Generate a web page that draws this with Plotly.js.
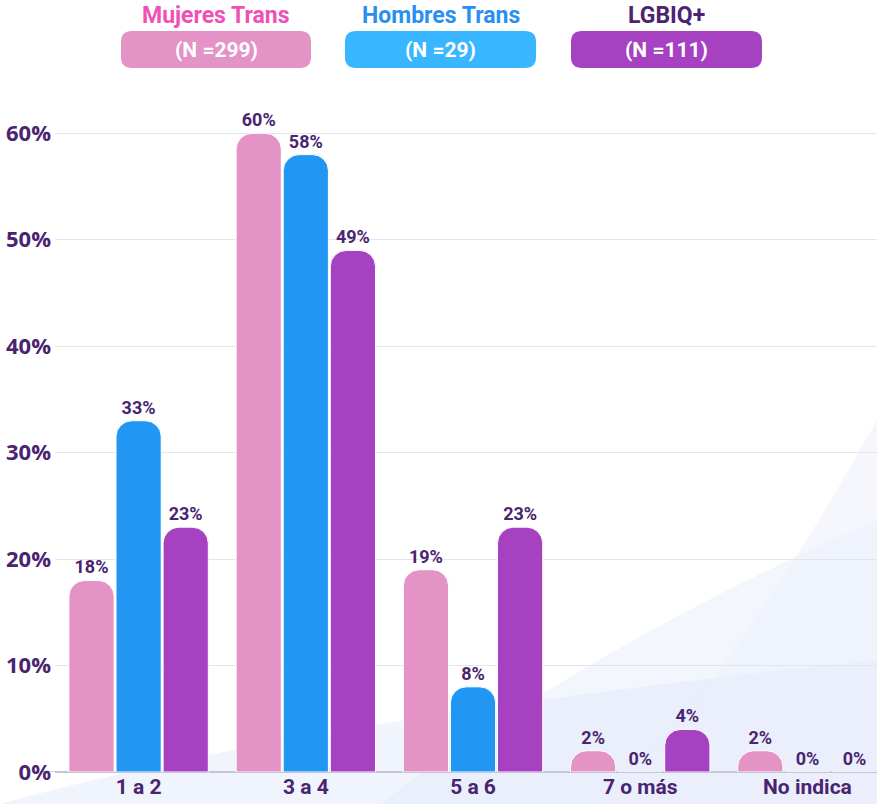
<!DOCTYPE html>
<html><head><meta charset="utf-8">
<script src="https://cdn.plot.ly/plotly-3.0.1.min.js"></script>
<style>html,body{margin:0;padding:0;background:#fff}#c{width:877px;height:804px}</style>
</head><body><div id="c"></div>
<script>
const categories = ["1 a 2", "3 a 4", "5 a 6", "7 o más", "No indica"];
const seriesNames = ["Mujeres Trans", "Hombres Trans", "LGBIQ+"];
const seriesN = ["(N =299)", "(N =29)", "(N =111)"];
const mujeresTrans = [18, 60, 19, 2, 2];
const hombresTrans = [33, 58, 8, 0, 0];
const lgbiq = [23, 49, 23, 4, 0];
const yTicks = [0, 10, 20, 30, 40, 50, 60];

const W = 877, H = 804, L = 55, R = 0, T = 95, B = 32;
const pw = W - L - R, ph = H - T - B;
const px = x => (x - L) / pw;
const py = y => (H - B - y) / ph;
function rrect(x0, y0, x1, y1, r) {
  const X = v => px(v).toFixed(5), Y = v => py(v).toFixed(5);
  return `M${X(x0 + r)},${Y(y0)} L${X(x1 - r)},${Y(y0)} Q${X(x1)},${Y(y0)} ${X(x1)},${Y(y0 + r)} ` +
    `L${X(x1)},${Y(y1 - r)} Q${X(x1)},${Y(y1)} ${X(x1 - r)},${Y(y1)} L${X(x0 + r)},${Y(y1)} ` +
    `Q${X(x0)},${Y(y1)} ${X(x0)},${Y(y1 - r)} L${X(x0)},${Y(y0 + r)} Q${X(x0)},${Y(y0)} ${X(x0 + r)},${Y(y0)} Z`;
}

const barColors = ["#e493c7", "#2196f2", "#a641c1"];
const boxColors = ["#e493c7", "#38b6ff", "#a641c1"];
const titleColors = ["#f050b5", "#2a8ff0", "#4a2470"];
const dark = "#4a2470";
const font = "Roboto, 'Open Sans', sans-serif";

const vals = [mujeresTrans, hombresTrans, lgbiq];
const traces = vals.map((v, i) => ({
  type: "bar", x: categories, y: v, name: seriesNames[i],
  marker: {color: barColors[i], line: {color: "#ffffff", width: 1}},
  text: v.map(d => d + "%"), textposition: "outside", cliponaxis: false,
  textfont: {family: font, size: 18, color: dark, weight: 700},
  hoverinfo: "skip"
}));

const shapes = [];
// soft background swooshes
shapes.push({type: "path", xref: "paper", yref: "paper", layer: "below", line: {width: 0},
  fillcolor: "rgba(228,234,250,0.45)",
  path: `M${px(380)},${py(804)} Q${px(600)},${py(640)} ${px(877)},${py(520)} L${px(877)},${py(804)} Z`});
shapes.push({type: "path", xref: "paper", yref: "paper", layer: "below", line: {width: 0},
  fillcolor: "rgba(222,230,248,0.45)",
  path: `M${px(0)},${py(804)} Q${px(300)},${py(720)} ${px(877)},${py(660)} L${px(877)},${py(804)} Z`});
shapes.push({type: "path", xref: "paper", yref: "paper", layer: "below", line: {width: 0},
  fillcolor: "rgba(235,240,252,0.5)",
  path: `M${px(600)},${py(804)} Q${px(720)},${py(700)} ${px(877)},${py(420)} L${px(877)},${py(804)} Z`});
// baseline extension to the left
shapes.push({type: "line", xref: "paper", yref: "y", x0: px(40), x1: 1, y0: 0, y1: 0,
  line: {color: "#c6c6d6", width: 1.5}, layer: "below"});

const boxX = [[121, 311], [345, 536], [571, 762]];
const annotations = [];
boxX.forEach((b, i) => {
  shapes.push({type: "path", xref: "paper", yref: "paper", line: {width: 0},
    fillcolor: boxColors[i], path: rrect(b[0], 31, b[1], 68, 11)});
  const cx = px((b[0] + b[1]) / 2);
  annotations.push({xref: "paper", yref: "paper", x: cx, y: py(49.5), yanchor: "middle", xanchor: "center",
    showarrow: false, text: "<b>" + seriesN[i] + "</b>", font: {family: font, size: 21, color: "#ffffff"}});
  annotations.push({xref: "paper", yref: "paper", x: cx, y: py(15.5), yanchor: "middle", xanchor: "center",
    showarrow: false, text: "<b>" + seriesNames[i] + "</b>", font: {family: font, size: 23, color: titleColors[i]}});
});

const layout = {
  width: W, height: H, margin: {l: L, r: R, t: T, b: B},
  paper_bgcolor: "rgba(0,0,0,0)", plot_bgcolor: "rgba(0,0,0,0)",
  showlegend: false, barmode: "group", bargap: 0.155, bargroupgap: 0.04,
  barcornerradius: 16,
  font: {family: font, color: dark},
  xaxis: {type: "category", range: [-0.5, 4.416], showgrid: false, zeroline: false,
    showline: false, ticks: "", tickfont: {family: font, size: 21, color: dark, weight: 700},
    fixedrange: true},
  yaxis: {range: [0, 63.6], tickvals: yTicks, ticktext: yTicks.map(t => t + "%"),
    showgrid: true, gridcolor: "#e4e4ea", gridwidth: 1, zeroline: true, zerolinecolor: "#c6c6d6",
    zerolinewidth: 1.5, ticks: "", ticklabelstandoff: 3,
    tickfont: {family: "'Open Sans', sans-serif", size: 22, color: dark, weight: 700}, fixedrange: true},
  shapes: shapes, annotations: annotations
};
Plotly.newPlot("c", traces, layout, {displayModeBar: false, staticPlot: true});
</script></body></html>
